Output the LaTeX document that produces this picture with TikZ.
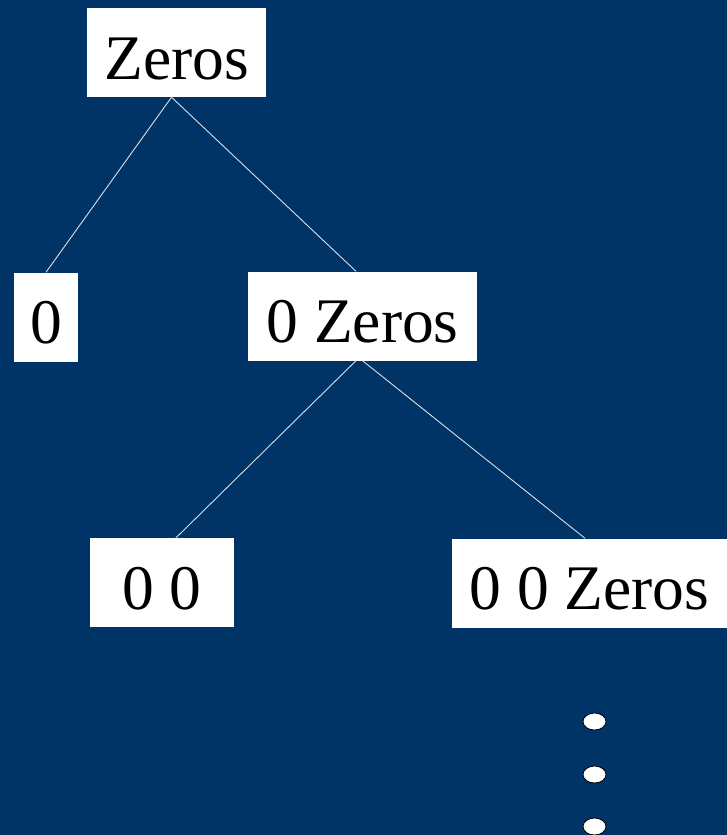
\documentclass[tikz,border=0pt]{standalone}
\usepackage{fontspec}
\setmainfont{Liberation Serif}
\usetikzlibrary{shapes.geometric}
\definecolor{slatebg}{HTML}{003366}
\begin{document}
\begin{tikzpicture}[x=1pt,y=-1pt,
  box/.style={fill=white, inner sep=0pt, minimum height=89pt,
    font=\fontsize{63.5}{70}\selectfont, text height=53pt, text depth=0pt},
  link/.style={draw=white!85!slatebg, line width=0.9pt},
  dot/.style={ellipse, draw=black, fill=white, line width=0.8pt,
    minimum width=23pt, minimum height=17pt, inner sep=0pt}]
\fill[slatebg] (0,0) rectangle (727,835);
\useasboundingbox (0,0) rectangle (727,835);

% tree of expansions
\node[box, minimum width=179pt] (top) at (176.5,52.5) {Zeros};
\node[box, minimum width=64pt]  (d0)  at (46,317)     {0};
\node[box, minimum width=229pt] (z1)  at (362.5,316)  {0 Zeros};
\node[box, minimum width=144pt] (d00) at (162,582.5)  {0 0};
\node[box, minimum width=275pt] (z2)  at (589.5,583)  {0 0 Zeros};

\draw[link] ([xshift=-5pt]top.south) -- (d0.north);
\draw[link] ([xshift=-5pt]top.south) -- ([xshift=-6.5pt]z1.north);
\draw[link] ([xshift=-6.5pt]z1.south) -- ([xshift=14pt]d00.north);
\draw[link] (z1.south) -- ([xshift=-4.5pt]z2.north);

% continuation dots
\node[dot] (e1) at (594.5,721.5) {};
\node[dot] (e2) at (594.5,774.5) {};
\node[dot] (e3) at (594.5,826.5) {};
\end{tikzpicture}
\end{document}
